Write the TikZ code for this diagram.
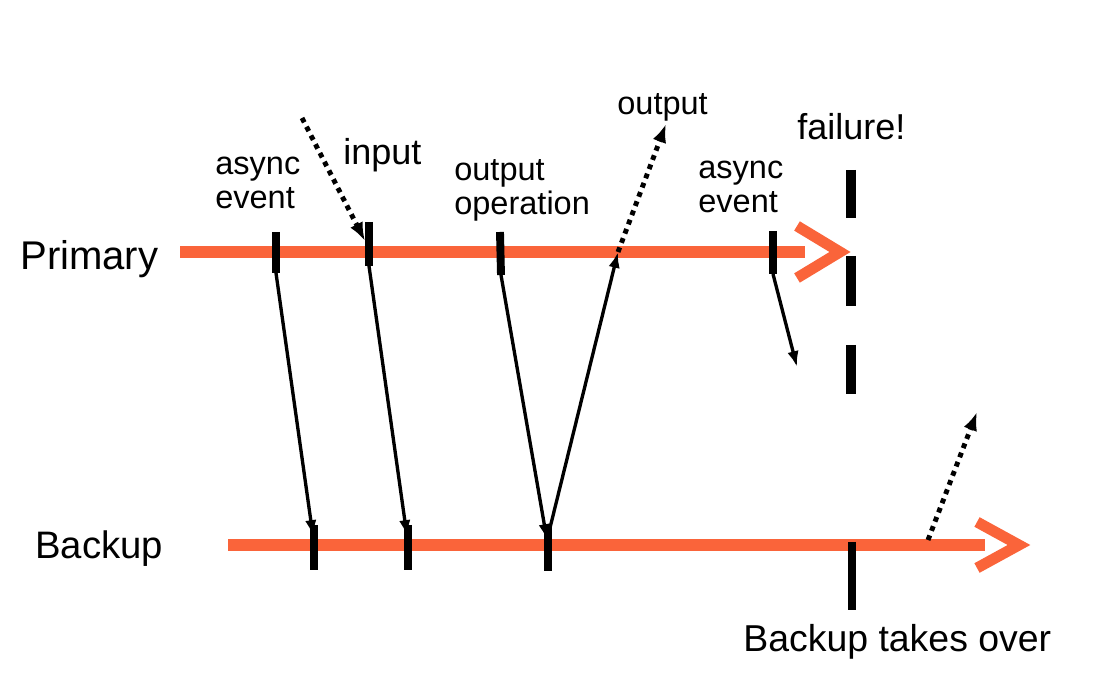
\documentclass[tikz,border=0pt]{standalone}
\usepackage{fontspec}
\setmainfont{Liberation Sans}
\usetikzlibrary{arrows.meta}
\definecolor{tlorange}{RGB}{250,100,58}
\tikzset{ %x=0.02cm means one pixel of the reference
  >={Latex[length=9pt,width=6.5pt]},
  {timeline/.style} ={draw=tlorange,line width=6.8pt},
  {chev/.style} ={draw=tlorange,line width=6.2pt,line join=miter},
  {tick/.style} ={draw=black,line width=4.5pt},
  {fail/.style} ={draw=black,line width=5.7pt},
  {msg/.style} ={draw,line width=1.9pt,->},
  {ext/.style} ={draw,line width=2.8pt,dash pattern=on 2.8pt off 2.8pt,
    -{Latex[length=10.5pt,width=8pt]}},
  {lbl/.style} ={font=\fontsize{18.5}{19.5}\selectfont,align=left,inner sep=0pt},
  {big/.style} ={font=\fontsize{21.8}{24}\selectfont,inner sep=0pt},
 }
\begin{document}
\begin{tikzpicture}[x=0.02cm,y=-0.02cm]
        \useasboundingbox (0,0) rectangle (1096,688);
        % the two time lines
        \node[big,anchor=base west,font=\fontsize{22.8}{24}\selectfont] (pri) at (20,270) {Primary};
        \node[big,anchor=base west] (bak) at (35,559) {Backup};
        \coordinate (p0) at (180,252); \coordinate (p1) at (805,252);
        \coordinate (b0) at (228,545); \coordinate (b1) at (985,545);
        \path[timeline] (p0) -- (p1);
        \path[timeline] (b0) -- (b1);
        \path[chev] (797,226) -- (840,252) -- (797,278);
        \path[chev] (977,522) -- (1019,545) -- (977,568);
        % ticks on the primary
        \coordinate (pa) at (276,232); \coordinate (pa') at (276,273);
        \coordinate (pi) at (369,222); \coordinate (pi') at (369,266);
        \coordinate (po) at (500,232); \coordinate (po') at (501,275);
        \coordinate (pe) at (773,231); \coordinate (pe') at (773,274);
        \foreach \t in {a,i,o,e} \path[tick] (p\t) -- (p\t');
        % ticks on the backup
        \coordinate (ba) at (314,525); \coordinate (ba') at (314,570);
        \coordinate (bi) at (408,525); \coordinate (bi') at (408,570);
        \coordinate (bo) at (548,525); \coordinate (bo') at (548,571);
        \coordinate (bt) at (852,542); \coordinate (bt') at (852,610);
        \foreach \t in {a,i,o,t} \path[tick] (b\t) -- (b\t');
        % failure
        \path[fail] (851,170) -- (851,218);
        \path[fail] (851,256) -- (851,306);
        \path[fail] (851,345) -- (851,394);
        % messages
        \path[msg] (pa') -- (313,536);
        \path[msg] (pi') -- (407,536);
        \path[msg] (po') -- (547,540);
        \coordinate (out) at (618,252);
        \path[msg] (547,540) -- (out);
        \path[msg] (pe') -- (797,367);
        \coordinate (inp) at (302,118);
        \path[ext] (inp) -- (365,241);
        \path[ext] (out) -- (666,124);
        \coordinate (bout) at (928,540);
        \path[ext] (bout) -- (977,412);
        % labels
        \node[lbl,anchor=base west] (ae1) at (215,209) {async\\event};
        \node[lbl,anchor=base west,font=\fontsize{20.5}{24}\selectfont] (in) at (343,165) {input};
        \node[lbl,anchor=base west] (oop) at (454,215) {output\\operation};
        \node[lbl,anchor=base west] (op) at (617,115) {output};
        \node[lbl,anchor=base west] (ae2) at (698,213) {async\\event};
        \node[lbl,anchor=base west,font=\fontsize{20.5}{24}\selectfont] (fl) at (797,140) {failure!};
        \node[big,anchor=base west,font=\fontsize{21.3}{24}\selectfont] (bto) at (743,652) {Backup takes over};
\end{tikzpicture}
\end{document}
